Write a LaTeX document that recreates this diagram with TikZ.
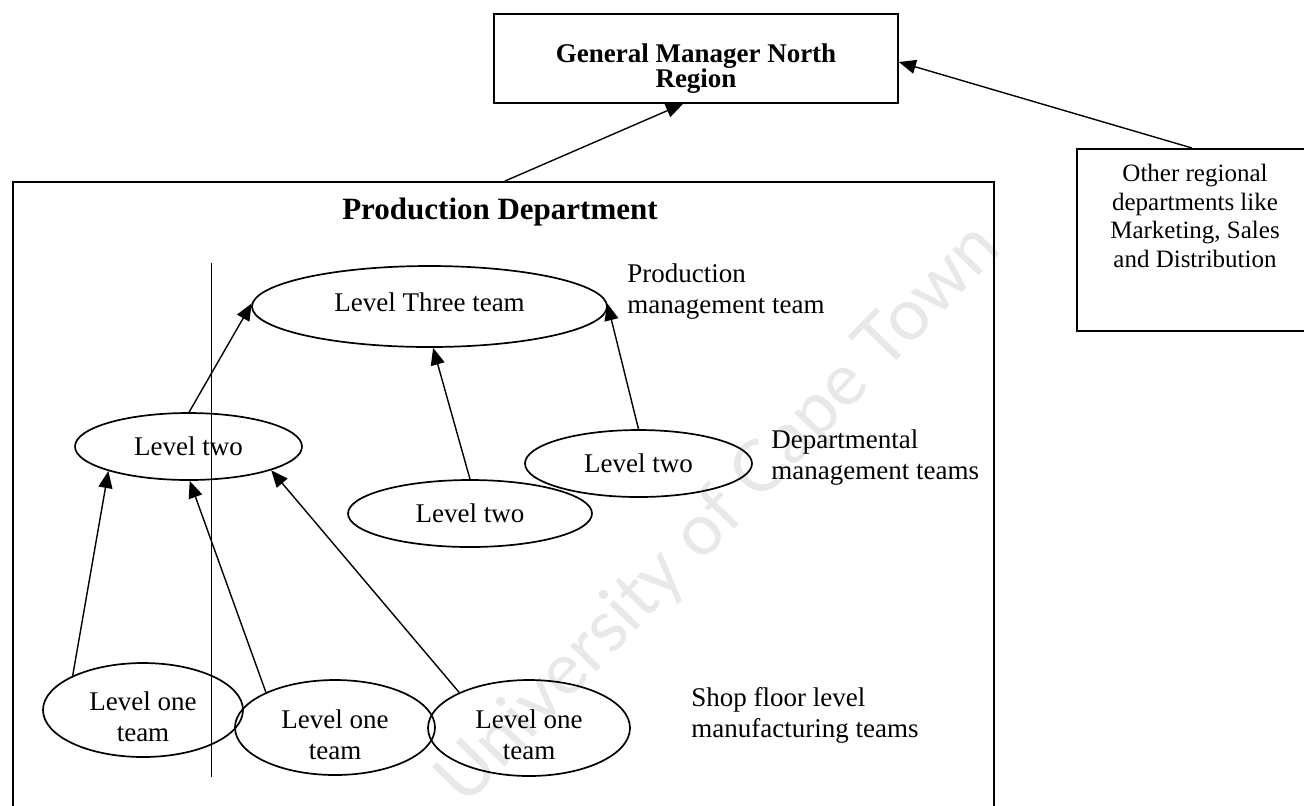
\documentclass[tikz,border=0pt]{standalone}
\usepackage{fontspec}
\setmainfont{Liberation Serif}
\newfontfamily\wmfont{Lato}
\usetikzlibrary{arrows.meta,shapes.geometric}
\begin{document}
\begin{tikzpicture}[x=0.5pt,y=-0.5pt,
  box/.style={draw,rectangle,line width=0.85pt,inner sep=0pt},
  team/.style={draw,ellipse,line width=0.85pt,inner sep=0pt,align=center,
    font=\fontsize{13.5}{15.5}\selectfont},
  teamtext/.style={inner sep=0pt,align=center,font=\fontsize{13.5}{15.5}\selectfont},
  note/.style={anchor=west,inner sep=0pt,align=left,
    font=\fontsize{13.5}{15.5}\selectfont},
  link/.style={line width=0.7pt,-{Triangle[length=8.5pt,width=7pt]}},
  guide/.style={line width=0.4pt}]
\useasboundingbox (0,0) rectangle (1304,805);
\fill[white] (0,0) rectangle (1304,805);

% faint watermark behind the chart
\node[rotate=46,text=black!9,font=\wmfont\fontsize{36}{36}\selectfont]
  (wm) at (720,515) {University of Cape Town};

% top of the hierarchy
\node[box,minimum width=202pt,minimum height=44.5pt] (gm) at (696,58.5) {};
\node[align=center,inner sep=0pt,font=\bfseries\fontsize{13.5}{12.5}\selectfont]
  (gmtext) at (696,69) {General Manager North\\Region};

% other departments of the region
\node[box,anchor=north west,minimum width=117pt,minimum height=91pt]
  (other) at (1076,148) {};
\node[anchor=north,align=center,inner sep=0pt,font=\fontsize{12.5}{14.25}\selectfont]
  (othertext) at (1195,164) {Other regional\\departments like\\Marketing, Sales\\and Distribution};

% production department frame
\node[box,anchor=north west,minimum width=490.5pt,minimum height=330pt]
  (prod) at (12,181) {};
\node[font=\bfseries\fontsize{15.5}{18}\selectfont] (title) at (500,212) {Production Department};

% teams
\node[team,minimum width=177.5pt,minimum height=40.5pt,
  label={[teamtext,yshift=2pt]center:Level Three team}] (L3) at (429.5,306.5) {};
\node[team,minimum width=113.5pt,minimum height=33.5pt] (L2a) at (188.5,446.5) {Level two};
\node[team,minimum width=122pt,minimum height=33.5pt] (L2b) at (470,513.5) {Level two};
\node[team,minimum width=113.5pt,minimum height=33.5pt] (L2c) at (638.5,463.5) {Level two};
\node[team,minimum width=100pt,minimum height=47pt,
  label={[teamtext,yshift=-3.5pt]center:{Level one\\team}}] (L1a) at (143,710) {};
\node[team,minimum width=100pt,minimum height=47.5pt,
  label={[teamtext,yshift=-3.5pt]center:{Level one\\team}}] (L1b) at (335,727.5) {};
\node[team,minimum width=101pt,minimum height=48pt,
  label={[teamtext,yshift=-3.5pt]center:{Level one\\team}}] (L1c) at (529,728) {};

% level captions
\node[note] (cap3) at (627,292) {Production\\management team};
\node[note] (cap2) at (771,458) {Departmental\\management teams};
\node[note] (cap1) at (691,715) {Shop floor level\\manufacturing teams};

% thin vertical rule
\coordinate (rtop) at (211,263);
\coordinate (rbot) at (211,777);
\draw[guide] (rtop) -- (rbot);

% reporting lines
\draw[link] (L2a.89) -- (L3.179);
\draw[link] (L2b.90) -- (L3.275);
\draw[link] (L2c.90) -- (L3.1);
\draw[link] (L1a.154) -- (L2a.197);
\draw[link] (L1b.153) -- (L2a.272);
\draw[link] (L1c.153) -- (L2a.344);
\draw[link] ([xshift=246.5pt]prod.north west) -- ([xshift=-6.5pt]gm.south);
\draw[link] ([xshift=58pt]other.north west) -- ([yshift=-1.75pt]gm.east);
\end{tikzpicture}
\end{document}
